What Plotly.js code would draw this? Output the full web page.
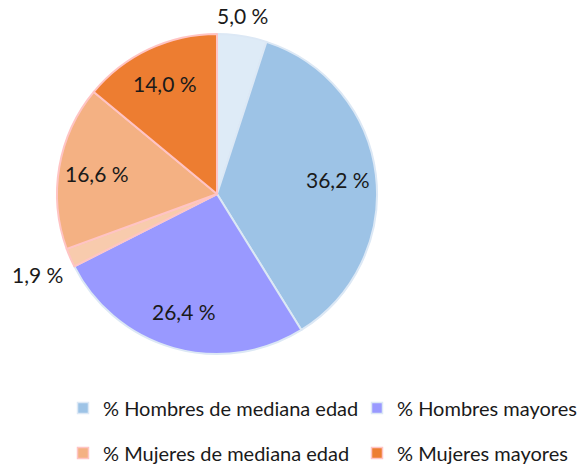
<!DOCTYPE html>
<html>
<head>
<meta charset="utf-8">
<script src="https://cdn.plot.ly/plotly-3.0.1.min.js"></script>
<style>
  html, body { margin: 0; padding: 0; background: #ffffff; }
  #chart { width: 577px; height: 466px; }
</style>
</head>
<body>
<div id="chart"></div>
<script>
// ---- data ----
var sliceLabels = [
  "% Hombres jóvenes",
  "% Hombres de mediana edad",
  "% Hombres mayores",
  "% Mujeres jóvenes",
  "% Mujeres de mediana edad",
  "% Mujeres mayores"
];
var sliceValues = [5.0, 36.2, 26.4, 1.9, 16.6, 14.0];
var sliceColors = ["#DEEBF7", "#9DC3E6", "#9999FF", "#F8CBAD", "#F4B183", "#ED7D31"];
var sliceBorders = ["#DCE8F5", "#DCE8F5", "#DCE8F5", "#FFC4C4", "#FFC4C4", "#FFC4C4"];
var labelOutside = [true, false, false, true, false, false];

var legendNames = ["% Hombres de mediana edad", "% Hombres mayores", "% Mujeres de mediana edad", "% Mujeres mayores"];
var legendColors = ["#9DC3E6", "#9999FF", "#F4B183", "#ED7D31"];
var legendBorders = ["#DCE8F5", "#DCE8F5", "#FFC4C4", "#FFC4C4"];
var legendIds = ["legend", "legend2", "legend3", "legend4"];
// legend placement (left edge px, row centre px)
var legendLeft = [63, 357, 63, 357];
var legendRowY = [408, 408, 453, 453];

var FONT = "Lato, 'Open Sans', sans-serif";
var TEXT_COLOR = "#1a1a1a";
var W = 577, H = 466;
var pieDomain = { x: [0.0988, 0.6534], y: [0.2403, 0.9270] };
var INSIDE_LABEL_R = 0.76;   // fraction of radius for inside labels
var OUTSIDE_GAP = 6;         // px beyond the rim for outside labels

var sliceText = sliceValues.map(function (v) {
  return v.toFixed(1).replace(".", ",") + " %";
});

var traces = [{
  type: "pie",
  labels: sliceLabels,
  values: sliceValues,
  textinfo: "none",
  sort: false,
  direction: "clockwise",
  rotation: 0,
  marker: { colors: sliceColors, line: { color: sliceBorders, width: 2 } },
  showlegend: false,
  hoverinfo: "none",
  domain: pieDomain
}];

// data labels placed along each slice's bisector (angles derived from the values)
var total = sliceValues.reduce(function (a, b) { return a + b; }, 0);
var cxPx = (pieDomain.x[0] + pieDomain.x[1]) / 2 * W;
var cyPx = (1 - (pieDomain.y[0] + pieDomain.y[1]) / 2) * H;
var rPx = Math.min((pieDomain.x[1] - pieDomain.x[0]) * W, (pieDomain.y[1] - pieDomain.y[0]) * H) / 2;
var annotations = [];
var cum = 0;
sliceValues.forEach(function (v, i) {
  var theta = 2 * Math.PI * (cum + v / 2) / total;
  cum += v;
  var s = Math.sin(theta), c = Math.cos(theta);
  var rr, xa = "center", ya = "middle";
  if (labelOutside[i]) {
    rr = rPx + OUTSIDE_GAP;
    xa = s < -0.3 ? "right" : (s > 0.3 ? "left" : "center");
    ya = c > 0.3 ? "bottom" : (c < -0.3 ? "top" : "middle");
  } else {
    rr = rPx * INSIDE_LABEL_R;
  }
  var px = cxPx + rr * s;
  var py = cyPx - rr * c;
  annotations.push({
    xref: "paper", yref: "paper",
    x: px / W, y: 1 - py / H,
    xanchor: xa, yanchor: ya,
    text: sliceText[i],
    showarrow: false,
    font: { family: FONT, size: 21, color: TEXT_COLOR }
  });
});

var layout = {
  width: W,
  height: H,
  margin: { l: 0, r: 0, t: 0, b: 0, autoexpand: false },
  paper_bgcolor: "#ffffff",
  plot_bgcolor: "#ffffff",
  xaxis: { visible: false },
  yaxis: { visible: false },
  showlegend: true,
  annotations: annotations
};

legendNames.forEach(function (n, i) {
  traces.push({
    type: "scatter",
    mode: "markers",
    x: [null],
    y: [null],
    name: n,
    legend: legendIds[i],
    showlegend: true,
    hoverinfo: "none",
    marker: { symbol: "square", size: 11, color: legendColors[i], line: { color: legendBorders[i], width: 1.5 } }
  });
  layout[legendIds[i]] = {
    orientation: "h",
    x: legendLeft[i] / W,
    y: (H - legendRowY[i]) / H,
    xanchor: "left",
    yanchor: "middle",
    bgcolor: "rgba(0,0,0,0)",
    borderwidth: 0,
    font: { family: FONT, size: 20, color: TEXT_COLOR },
    itemclick: false,
    itemdoubleclick: false
  };
});

Plotly.newPlot("chart", traces, layout, { displayModeBar: false, staticPlot: true });
</script>
</body>
</html>
